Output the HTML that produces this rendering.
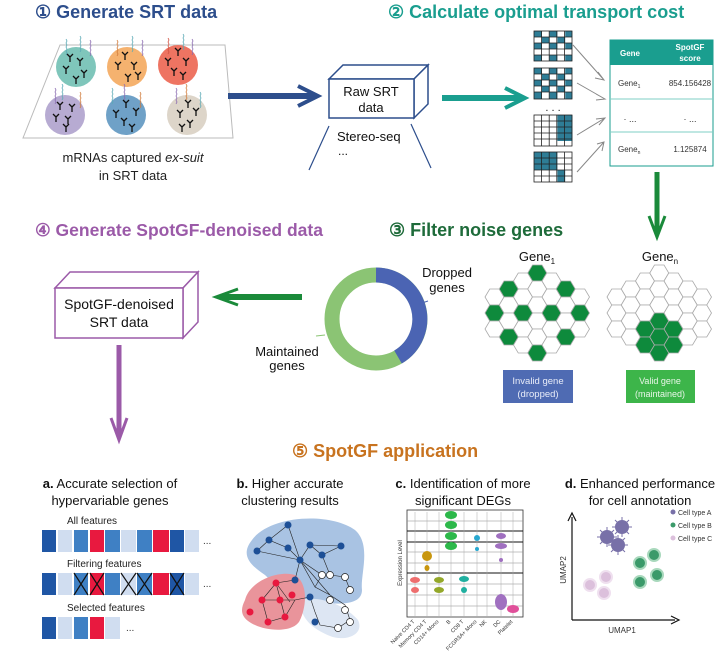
<!DOCTYPE html>
<html><head><meta charset="utf-8"><style>
html,body{margin:0;padding:0;background:#fff;}
svg{display:block;font-family:"Liberation Sans",sans-serif;}
</style></head><body>
<svg width="718" height="651" viewBox="0 0 718 651" xmlns="http://www.w3.org/2000/svg">
<defs>
<g id="ab"><path d="M0,0 V-5 M0,-5 L-3,-8 M0,-5 L3,-8" stroke="#111" stroke-width="1.3" fill="none"/></g>
<g id="sq"><path d="M0,0 l1,-2 l-1,-2 l1,-2 l-1,-2 l1,-2 l-1,-2 l1,-2 l-1,-2" stroke-width="0.8" fill="none"/></g>
<polygon id="hx" points="-9.5,0 -4.75,-8 4.75,-8 9.5,0 4.75,8 -4.75,8"/>
</defs>

<!-- Section 1 -->
<text x="35" y="18" font-size="18" font-weight="bold" fill="#2d4e8c">① Generate SRT data</text>
<polygon points="60,45 225,45 233,138 23,138" fill="#fff" stroke="#bbb" stroke-width="1"/>
<g>
<circle cx="76" cy="67" r="20" fill="#7fc6bb"/>
<circle cx="127" cy="67" r="20" fill="#f5b26f"/>
<circle cx="178" cy="65" r="20" fill="#ee7462"/>
<circle cx="65" cy="115" r="20" fill="#b7abd2"/>
<circle cx="126" cy="115" r="20" fill="#6fa1c7"/>
<circle cx="187" cy="115" r="20" fill="#ddd5c9"/>
</g>
<g stroke="#5aa9b5">
<use href="#sq" x="66" y="55"/><use href="#sq" x="80" y="52"/><use href="#sq" x="90" y="56" stroke="#8a6bb0"/>
<use href="#sq" x="117" y="56" stroke="#d07a3a"/><use href="#sq" x="132" y="52"/><use href="#sq" x="142" y="56" stroke="#8a6bb0"/>
<use href="#sq" x="168" y="54" stroke="#d05040"/><use href="#sq" x="183" y="50"/><use href="#sq" x="192" y="55" stroke="#8a6bb0"/>
<use href="#sq" x="55" y="104" stroke="#8a6bb0"/><use href="#sq" x="62" y="100"/><use href="#sq" x="80" y="108" stroke="#d07a3a"/>
<use href="#sq" x="112" y="104"/><use href="#sq" x="124" y="100" stroke="#8a6bb0"/><use href="#sq" x="140" y="108" stroke="#d07a3a"/>
<use href="#sq" x="176" y="104" stroke="#8a6bb0"/><use href="#sq" x="186" y="100" stroke="#d07a3a"/><use href="#sq" x="200" y="108"/>
</g>
<g>
<use href="#ab" x="70" y="62"/><use href="#ab" x="80" y="66"/><use href="#ab" x="66" y="74"/><use href="#ab" x="84" y="78"/><use href="#ab" x="76" y="84"/>
<use href="#ab" x="125" y="60"/><use href="#ab" x="118" y="70"/><use href="#ab" x="134" y="70"/><use href="#ab" x="128" y="82"/><use href="#ab" x="138" y="80"/>
<use href="#ab" x="178" y="56"/><use href="#ab" x="168" y="66"/><use href="#ab" x="186" y="66"/><use href="#ab" x="174" y="76"/><use href="#ab" x="183" y="80"/>
<use href="#ab" x="60" y="110"/><use href="#ab" x="72" y="112"/><use href="#ab" x="56" y="122"/><use href="#ab" x="68" y="124"/><use href="#ab" x="66" y="132"/>
<use href="#ab" x="126" y="108"/><use href="#ab" x="116" y="118"/><use href="#ab" x="136" y="116"/><use href="#ab" x="124" y="126"/><use href="#ab" x="132" y="132"/>
<use href="#ab" x="188" y="108"/><use href="#ab" x="180" y="118"/><use href="#ab" x="196" y="116"/><use href="#ab" x="190" y="128"/><use href="#ab" x="182" y="132"/>
</g>
<text x="133" y="162" font-size="13" text-anchor="middle" fill="#222">mRNAs captured <tspan font-style="italic">ex-suit</tspan></text>
<text x="133" y="180" font-size="13" text-anchor="middle" fill="#222">in SRT data</text>
<path d="M228,96 H314" stroke="#2d4e8c" stroke-width="6"/>
<path d="M298,86 L318,96 L298,106" stroke="#2d4e8c" stroke-width="4" fill="none"/>

<!-- Raw SRT box -->
<g fill="#fff" stroke="#2d4e8c" stroke-width="1.5">
<polygon points="329,79 343,65 428,65 414,79"/>
<polygon points="414,79 428,65 428,104 414,118"/>
<rect x="329" y="79" width="85" height="39"/>
</g>
<text x="371" y="96" font-size="13" text-anchor="middle" fill="#111">Raw SRT</text>
<text x="371" y="112" font-size="13" text-anchor="middle" fill="#111">data</text>
<text x="337" y="141" font-size="13" fill="#111">Stereo-seq</text>
<text x="338" y="155" font-size="12" fill="#111">...</text>
<path d="M329,126 L309,170 M411,124 L431,168" stroke="#2d4e8c" stroke-width="1.2"/>

<!-- Section 2 -->
<text x="388" y="18" font-size="18" font-weight="bold" fill="#1a9e8f">② Calculate optimal transport cost</text>
<path d="M442,98 H521" stroke="#1a9e8f" stroke-width="6"/>
<path d="M505,88 L525,98 L505,108" stroke="#1a9e8f" stroke-width="4" fill="none"/>
<g fill="#2e7d96">
<rect x="534" y="31" width="7.8" height="6" /><rect x="549.6" y="31" width="7.8" height="6"/><rect x="565.2" y="31" width="7" height="6"/>
<rect x="534" y="43" width="7.8" height="6"/><rect x="549.6" y="43" width="7.8" height="6"/><rect x="565.2" y="43" width="7" height="6"/>
<rect x="541.8" y="37" width="7.8" height="6"/><rect x="557.4" y="37" width="7.8" height="6"/>
<rect x="534" y="55" width="7.8" height="6"/><rect x="549.6" y="55" width="7.8" height="6"/><rect x="565.2" y="55" width="7" height="6"/>
<rect x="534" y="68" width="7.8" height="6"/><rect x="549.6" y="68" width="7.8" height="6"/><rect x="565.2" y="68" width="7" height="6"/>
<rect x="541.8" y="74" width="7.8" height="6"/><rect x="557.4" y="74" width="7.8" height="6"/>
<rect x="534" y="80" width="7.8" height="6"/><rect x="549.6" y="80" width="7.8" height="6"/><rect x="565.2" y="80" width="7" height="6"/>
<rect x="541.8" y="86" width="7.8" height="6"/><rect x="557.4" y="86" width="7.8" height="6"/>
<rect x="534" y="92" width="7.8" height="7"/><rect x="549.6" y="92" width="7.8" height="7"/><rect x="565.2" y="92" width="7" height="7"/>
<rect x="557.4" y="115" width="15" height="26"/>
<rect x="534" y="152" width="23.4" height="18"/>
<rect x="557.4" y="170" width="7.8" height="12"/>
</g>
<g stroke="#222" stroke-width="0.8" fill="none">
<rect x="534" y="31" width="38" height="30"/><rect x="534" y="68" width="38" height="31"/><rect x="534" y="115" width="38" height="31"/><rect x="534" y="152" width="38" height="30"/>
<path d="M541.6,31V61M549.2,31V61M556.8,31V61M564.4,31V61M534,37H572M534,43H572M534,49H572M534,55H572"/>
<path d="M541.6,68V99M549.2,68V99M556.8,68V99M564.4,68V99M534,74H572M534,80H572M534,86H572M534,92H572"/>
<path d="M541.6,115V146M549.2,115V146M556.8,115V146M564.4,115V146M534,121H572M534,127H572M534,133H572M534,139H572"/>
<path d="M541.6,152V182M549.2,152V182M556.8,152V182M564.4,152V182M534,158H572M534,164H572M534,170H572M534,176H572"/>
</g>
<text x="553" y="111" font-size="11" text-anchor="middle" fill="#222">. . .</text>
<g stroke="#888" stroke-width="1" fill="none">
<path d="M573,45 L604,80 M598,72 L604,80 L595,78"/>
<path d="M577,83 L605,99 M596,94 L605,99 L596,100"/>
<path d="M577,135 L605,118 M596,119 L605,118 L599,125"/>
<path d="M577,172 L604,142 M597,144 L604,142 L602,151"/>
</g>
<rect x="610" y="40" width="103" height="126" fill="#fff" stroke="#1a9e8f" stroke-width="1"/>
<rect x="610" y="40" width="103" height="25" fill="#1a9e8f"/>
<path d="M610,99H713M610,132H713" stroke="#7fcfc4" stroke-width="1"/>
<text x="630" y="56" font-size="8" font-weight="bold" fill="#fff" text-anchor="middle">Gene</text>
<text x="690" y="50" font-size="8" font-weight="bold" fill="#fff" text-anchor="middle">SpotGF</text>
<text x="690" y="61" font-size="8" font-weight="bold" fill="#fff" text-anchor="middle">score</text>
<text x="618" y="86" font-size="8" fill="#333">Gene<tspan font-size="5" dy="2">1</tspan></text>
<text x="690" y="86" font-size="8" fill="#333" text-anchor="middle">854.156428</text>
<text x="630" y="122" font-size="9" fill="#333" text-anchor="middle">· ...</text>
<text x="690" y="122" font-size="9" fill="#333" text-anchor="middle">· ...</text>
<text x="618" y="152" font-size="8" fill="#333">Gene<tspan font-size="5" dy="2">n</tspan></text>
<text x="690" y="152" font-size="8" fill="#333" text-anchor="middle">1.125874</text>
<path d="M657,172 V234" stroke="#1a8a3a" stroke-width="5"/>
<path d="M649,216 L657,237 L665,216" stroke="#1a8a3a" stroke-width="3" fill="none"/>

<!-- Section 4 -->
<text x="35" y="236" font-size="17.5" font-weight="bold" fill="#9b5aa8">④ Generate SpotGF-denoised data</text>
<g fill="#fff" stroke="#9b5aa8" stroke-width="1.5">
<polygon points="55,288 70,272 198,272 183,288"/>
<polygon points="183,288 198,272 198,322 183,338"/>
<rect x="55" y="288" width="128" height="50"/>
</g>
<text x="119" y="309" font-size="14" text-anchor="middle" fill="#111">SpotGF-denoised</text>
<text x="119" y="327" font-size="14" text-anchor="middle" fill="#111">SRT data</text>
<path d="M119,345 V436" stroke="#9b5aa8" stroke-width="5"/>
<path d="M111,418 L119,440 L127,418" stroke="#9b5aa8" stroke-width="3" fill="none"/>
<path d="M302,297 H220" stroke="#1a8a3a" stroke-width="6"/>
<path d="M238,289 L216,297 L238,305" stroke="#1a8a3a" stroke-width="3" fill="none"/>

<!-- Section 3 -->
<text x="389" y="236" font-size="18" font-weight="bold" fill="#1e6b3a">③ Filter noise genes</text>
<circle cx="376" cy="319" r="44" fill="none" stroke="#8bc474" stroke-width="15"/>
<path d="M376,275 A44,44 0 0 1 398,357" fill="none" stroke="#4b64b3" stroke-width="15"/>
<path d="M419,304 L428,301" stroke="#4b64b3" stroke-width="1"/>
<path d="M316,336 L325,335" stroke="#8bc474" stroke-width="1"/>
<text x="447" y="277" font-size="13" text-anchor="middle" fill="#111">Dropped</text>
<text x="447" y="292" font-size="13" text-anchor="middle" fill="#111">genes</text>
<text x="287" y="356" font-size="13" text-anchor="middle" fill="#111">Maintained</text>
<text x="287" y="370" font-size="13" text-anchor="middle" fill="#111">genes</text>
<text x="537" y="261" font-size="13" text-anchor="middle" fill="#111">Gene<tspan font-size="8" dy="3">1</tspan></text>
<text x="660" y="261" font-size="13" text-anchor="middle" fill="#111">Gene<tspan font-size="8" dy="3">n</tspan></text>
<g stroke="#aaa" stroke-width="0.8" fill="#fff">
<use href="#hx" x="494.5" y="297"/><use href="#hx" x="494.5" y="313" fill="#0e8a3c"/><use href="#hx" x="494.5" y="329"/>
<use href="#hx" x="508.75" y="289" fill="#0e8a3c"/><use href="#hx" x="508.75" y="305"/><use href="#hx" x="508.75" y="321"/><use href="#hx" x="508.75" y="337" fill="#0e8a3c"/>
<use href="#hx" x="523" y="281"/><use href="#hx" x="523" y="297"/><use href="#hx" x="523" y="313" fill="#0e8a3c"/><use href="#hx" x="523" y="329"/><use href="#hx" x="523" y="345"/>
<use href="#hx" x="537.25" y="273" fill="#0e8a3c"/><use href="#hx" x="537.25" y="289"/><use href="#hx" x="537.25" y="305"/><use href="#hx" x="537.25" y="321"/><use href="#hx" x="537.25" y="337"/><use href="#hx" x="537.25" y="353" fill="#0e8a3c"/>
<use href="#hx" x="551.5" y="281"/><use href="#hx" x="551.5" y="297"/><use href="#hx" x="551.5" y="313" fill="#0e8a3c"/><use href="#hx" x="551.5" y="329"/><use href="#hx" x="551.5" y="345"/>
<use href="#hx" x="565.75" y="289" fill="#0e8a3c"/><use href="#hx" x="565.75" y="305"/><use href="#hx" x="565.75" y="321"/><use href="#hx" x="565.75" y="337" fill="#0e8a3c"/>
<use href="#hx" x="580" y="297"/><use href="#hx" x="580" y="313" fill="#0e8a3c"/><use href="#hx" x="580" y="329"/>
<use href="#hx" x="616.5" y="297"/><use href="#hx" x="616.5" y="313"/><use href="#hx" x="616.5" y="329"/>
<use href="#hx" x="630.75" y="289"/><use href="#hx" x="630.75" y="305"/><use href="#hx" x="630.75" y="321"/><use href="#hx" x="630.75" y="337"/>
<use href="#hx" x="645" y="281"/><use href="#hx" x="645" y="297"/><use href="#hx" x="645" y="313"/><use href="#hx" x="645" y="329" fill="#0e8a3c"/><use href="#hx" x="645" y="345" fill="#0e8a3c"/>
<use href="#hx" x="659.25" y="273"/><use href="#hx" x="659.25" y="289"/><use href="#hx" x="659.25" y="305"/><use href="#hx" x="659.25" y="321" fill="#0e8a3c"/><use href="#hx" x="659.25" y="337" fill="#0e8a3c"/><use href="#hx" x="659.25" y="353" fill="#0e8a3c"/>
<use href="#hx" x="673.5" y="281"/><use href="#hx" x="673.5" y="297"/><use href="#hx" x="673.5" y="313"/><use href="#hx" x="673.5" y="329" fill="#0e8a3c"/><use href="#hx" x="673.5" y="345" fill="#0e8a3c"/>
<use href="#hx" x="687.75" y="289"/><use href="#hx" x="687.75" y="305"/><use href="#hx" x="687.75" y="321"/><use href="#hx" x="687.75" y="337"/>
<use href="#hx" x="702" y="297"/><use href="#hx" x="702" y="313"/><use href="#hx" x="702" y="329"/>
</g>
<rect x="503" y="370" width="70" height="33" fill="#4f6bb3"/>
<text x="538" y="384" font-size="9.5" fill="#e8ecf8" text-anchor="middle">Invalid gene</text>
<text x="538" y="397" font-size="9.5" fill="#e8ecf8" text-anchor="middle">(dropped)</text>
<rect x="626" y="370" width="69" height="33" fill="#3db54a"/>
<text x="660" y="384" font-size="9" fill="#e8f6e8" text-anchor="middle">Valid gene</text>
<text x="660" y="397" font-size="9" fill="#e8f6e8" text-anchor="middle">(maintained)</text>

<!-- Section 5 -->
<text x="292" y="457" font-size="18" font-weight="bold" fill="#c8731f">⑤ SpotGF application</text>
<g font-size="13" fill="#111" text-anchor="middle">
<text x="110" y="488"><tspan font-weight="bold">a.</tspan> Accurate selection of</text>
<text x="110" y="505">hypervariable genes</text>
<text x="290" y="488"><tspan font-weight="bold">b.</tspan> Higher accurate</text>
<text x="290" y="505">clustering results</text>
<text x="463" y="488"><tspan font-weight="bold">c.</tspan> Identification of more</text>
<text x="463" y="505">significant DEGs</text>
<text x="640" y="488"><tspan font-weight="bold">d.</tspan> Enhanced performance</text>
<text x="640" y="505">for cell annotation</text>
</g>
<g font-size="10" fill="#222">
<text x="67" y="524">All features</text>
<text x="67" y="567">Filtering features</text>
<text x="67" y="611">Selected features</text>
</g>
<g>
<rect x="42" y="530" width="14" height="22" fill="#1f56a5"/><rect x="58" y="530" width="14" height="22" fill="#d0ddf0"/><rect x="74" y="530" width="14" height="22" fill="#3f80c4"/><rect x="90" y="530" width="14" height="22" fill="#e8193f"/><rect x="105" y="530" width="15" height="22" fill="#3f80c4"/><rect x="121" y="530" width="15" height="22" fill="#d0ddf0"/><rect x="137" y="530" width="15" height="22" fill="#3f80c4"/><rect x="153" y="530" width="16" height="22" fill="#e8193f"/><rect x="170" y="530" width="14" height="22" fill="#1f56a5"/><rect x="185" y="530" width="14" height="22" fill="#d0ddf0"/>
<rect x="42" y="573" width="14" height="22" fill="#1f56a5"/><rect x="58" y="573" width="14" height="22" fill="#d0ddf0"/><rect x="74" y="573" width="14" height="22" fill="#3f80c4"/><rect x="90" y="573" width="14" height="22" fill="#e8193f"/><rect x="105" y="573" width="15" height="22" fill="#3f80c4"/><rect x="121" y="573" width="15" height="22" fill="#d0ddf0"/><rect x="137" y="573" width="15" height="22" fill="#3f80c4"/><rect x="153" y="573" width="16" height="22" fill="#e8193f"/><rect x="170" y="573" width="14" height="22" fill="#1f56a5"/><rect x="185" y="573" width="14" height="22" fill="#d0ddf0"/>
<rect x="42" y="617" width="14" height="22" fill="#1f56a5"/><rect x="58" y="617" width="14" height="22" fill="#d0ddf0"/><rect x="74" y="617" width="14" height="22" fill="#3f80c4"/><rect x="90" y="617" width="14" height="22" fill="#e8193f"/><rect x="105" y="617" width="15" height="22" fill="#d0ddf0"/>
<path d="M74,573 L88,595 M88,573 L74,595 M90,573 L104,595 M104,573 L90,595 M121,573 L136,595 M136,573 L121,595 M137,573 L152,595 M152,573 L137,595 M170,573 L184,595 M184,573 L170,595" stroke="#111" stroke-width="1.2"/>
</g>
<g font-size="10" fill="#333"><text x="203" y="544">...</text><text x="203" y="587">...</text><text x="126" y="631">...</text></g>

<!-- network -->
<path d="M252,540 C270,515 330,512 355,530 C372,545 360,575 362,590 C362,605 340,605 320,602 C300,600 280,590 265,575 C250,565 240,555 252,540 Z" fill="#a9c3e3"/>
<path d="M300,600 C320,595 345,605 358,620 C365,635 345,642 330,636 C315,630 300,620 300,600 Z" fill="#dde6f3"/>
<path d="M245,600 C250,580 280,570 295,575 C310,585 305,610 300,620 C295,632 270,632 255,625 C240,618 240,610 245,600 Z" fill="#e9949b"/>
<g stroke="#222" stroke-width="0.6" fill="none">
<path d="M288,525 L269,540 L288,548 L300,560 L310,545 L322,555 L341,546 M288,525 L300,560 L295,580 L276,583 L262,600 L268,622 L285,617 L295,600 L310,597 L315,612 L320,625 L338,628 L350,620 L345,605 L330,595 L315,587 L300,560 M257,551 L300,560 L330,595 M276,583 L285,617 M262,600 L295,600 M269,540 L257,551 M322,555 L330,575 L345,577 L350,590 M300,560 L322,575 L315,587 M310,545 L341,546 M290,602 L276,583"/>
</g>
<g fill="#1d4f96">
<circle cx="288" cy="525" r="3.5"/><circle cx="269" cy="540" r="3.5"/><circle cx="288" cy="548" r="3.5"/><circle cx="310" cy="545" r="3.5"/><circle cx="341" cy="546" r="3.5"/><circle cx="322" cy="555" r="3.5"/><circle cx="257" cy="551" r="3.5"/><circle cx="300" cy="560" r="3.5"/><circle cx="295" cy="580" r="3.5"/><circle cx="310" cy="597" r="3.5"/><circle cx="315" cy="622" r="3.5"/>
</g>
<g fill="#e8193f"><circle cx="276" cy="583" r="3.5"/><circle cx="262" cy="600" r="3.5"/><circle cx="250" cy="612" r="3.5"/><circle cx="268" cy="622" r="3.5"/><circle cx="285" cy="617" r="3.5"/><circle cx="280" cy="600" r="3.5"/><circle cx="292" cy="595" r="3.5"/></g>
<g fill="#fff" stroke="#222" stroke-width="0.7"><circle cx="330" cy="575" r="3.5"/><circle cx="345" cy="577" r="3.5"/><circle cx="350" cy="590" r="3.5"/><circle cx="330" cy="600" r="3.5"/><circle cx="345" cy="610" r="3.5"/><circle cx="338" cy="628" r="3.5"/><circle cx="350" cy="622" r="3.5"/><circle cx="322" cy="575" r="3.5"/></g>

<!-- violin -->
<rect x="407" y="510" width="116" height="107" fill="#fff" stroke="#333" stroke-width="0.8"/>
<g stroke="#555" stroke-width="0.6">
<path d="M407,521H523M407,552H523M407,563H523M407,584H523M407,595H523M407,606H523" stroke="#888"/>
<path d="M407,531H523M407,542H523M407,573H523" stroke="#111" stroke-width="1"/>
<path d="M415,512V616M427,512V616M439,512V616M451,512V616M464,512V616M477,512V616M487,512V616M501,512V616M513,512V616" stroke="#aaa" stroke-width="0.5"/>
</g>
<g>
<ellipse cx="451" cy="515" rx="6" ry="4" fill="#2db84a"/><ellipse cx="451" cy="525" rx="6" ry="4" fill="#2db84a"/><ellipse cx="451" cy="536" rx="6" ry="4" fill="#2db84a"/><ellipse cx="451" cy="546" rx="6" ry="4" fill="#2db84a"/>
<ellipse cx="427" cy="556" rx="5" ry="5" fill="#c8960e"/><ellipse cx="427" cy="568" rx="2.5" ry="3" fill="#c8960e"/>
<ellipse cx="415" cy="580" rx="5" ry="3" fill="#ee6e6e"/><ellipse cx="415" cy="590" rx="4" ry="3" fill="#ee6e6e"/>
<ellipse cx="439" cy="580" rx="5" ry="3" fill="#94a82a"/><ellipse cx="439" cy="590" rx="5" ry="3" fill="#94a82a"/>
<ellipse cx="464" cy="579" rx="5" ry="3" fill="#20b0a0"/><ellipse cx="464" cy="590" rx="3" ry="3" fill="#20b0a0"/>
<ellipse cx="477" cy="538" rx="3" ry="3" fill="#28a8d0"/><ellipse cx="477" cy="549" rx="2" ry="2" fill="#28a8d0"/>
<ellipse cx="501" cy="536" rx="5" ry="3" fill="#a070c0"/><ellipse cx="501" cy="546" rx="6" ry="3" fill="#a070c0"/><ellipse cx="501" cy="560" rx="2" ry="2" fill="#a070c0"/>
<ellipse cx="501" cy="602" rx="6" ry="8" fill="#a070c0"/>
<ellipse cx="513" cy="609" rx="6" ry="4" fill="#e0509a"/>
</g>
<text transform="translate(402,563) rotate(-90)" font-size="6" text-anchor="middle" fill="#333">Expression Level</text>
<g font-size="5.5" fill="#333" text-anchor="end">
<text transform="translate(415,622) rotate(-45)">Naive CD4 T</text>
<text transform="translate(427,622) rotate(-45)">Memory CD4 T</text>
<text transform="translate(439,622) rotate(-45)">CD14+ Mono</text>
<text transform="translate(451,622) rotate(-45)">B</text>
<text transform="translate(464,622) rotate(-45)">CD8 T</text>
<text transform="translate(477,622) rotate(-45)">FCGR3A+ Mono</text>
<text transform="translate(487,622) rotate(-45)">NK</text>
<text transform="translate(501,622) rotate(-45)">DC</text>
<text transform="translate(513,622) rotate(-45)">Platelet</text>
</g>

<!-- UMAP -->
<path d="M572,620 V517 M568,521 L572,513 L576,521 M572,620 H675 M671,616 L679,620 L671,624" stroke="#111" stroke-width="1.2" fill="none"/>
<text transform="translate(566,570) rotate(-90)" font-size="8" text-anchor="middle" fill="#333">UMAP2</text>
<text x="622" y="633" font-size="8" text-anchor="middle" fill="#333">UMAP1</text>
<g fill="#7870a8">
<circle cx="622" cy="527" r="7"/><circle cx="607" cy="537" r="7"/><circle cx="618" cy="545" r="7"/>
</g>
<g stroke="#7870a8" stroke-width="1">
<path d="M612,527H632M622,517V537M615,520L629,534M629,520L615,534M597,537H617M607,527V547M600,530L614,544M614,530L600,544M608,545H628M618,535V555M611,538L625,552M625,538L611,552"/>
</g>
<g fill="#3b9a6a" stroke="#a8d8bc" stroke-width="2"><circle cx="640" cy="563" r="6"/><circle cx="654" cy="555" r="6"/><circle cx="657" cy="575" r="6"/><circle cx="640" cy="582" r="6"/></g>
<g fill="#dcc0dc" stroke="#efe0ef" stroke-width="2"><circle cx="590" cy="585" r="6"/><circle cx="606" cy="577" r="6"/><circle cx="604" cy="593" r="6"/></g>
<circle cx="673" cy="512" r="2.5" fill="#7870a8"/><circle cx="673" cy="525" r="2.5" fill="#3b9a6a"/><circle cx="673" cy="538" r="2.5" fill="#dcc0dc"/>
<g font-size="7" fill="#333"><text x="678" y="515">Cell type A</text><text x="678" y="528">Cell type B</text><text x="678" y="541">Cell type C</text></g>
</svg>
</body></html>
